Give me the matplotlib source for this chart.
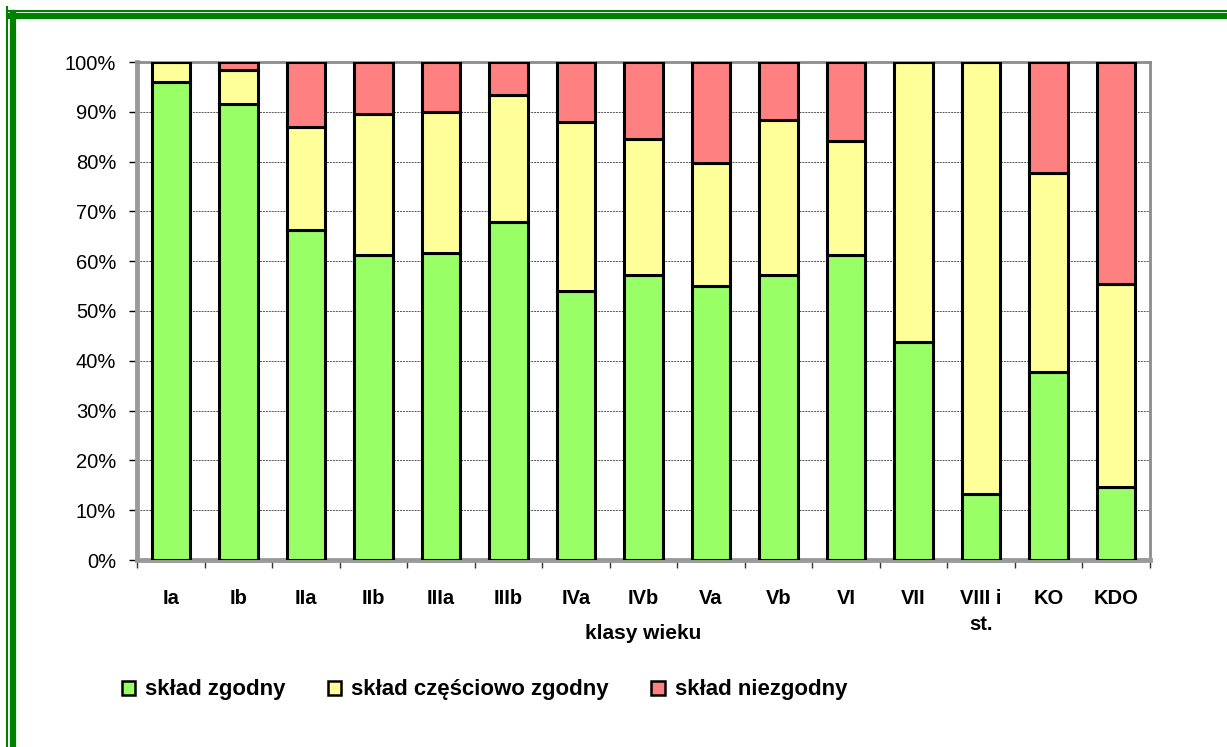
"""
Udział składu zgodnego / częściowo zgodnego / niezgodnego w klasach wieku.
"""

import matplotlib
matplotlib.use("Agg")
import matplotlib.pyplot as plt
from matplotlib.lines import Line2D
from matplotlib.patches import Patch
from matplotlib.ticker import FixedLocator, PercentFormatter

plt.rcParams["font.family"] = ["Liberation Sans", "DejaVu Sans"]

# ── data ─────────────────────────────────────────────────────────────
classes = ["Ia", "Ib", "IIa", "IIb", "IIIa", "IIIb", "IVa", "IVb",
           "Va", "Vb", "VI", "VII", "VIII i\nst.", "KO", "KDO"]
zgodny = [96.0, 91.5, 66.3, 61.3, 61.7, 67.8, 54.1, 57.2,
          55.0, 57.3, 61.2, 43.8, 13.3, 37.8, 14.7]
czesciowo = [4.0, 6.8, 20.7, 28.2, 28.3, 25.5, 33.9, 27.3,
             24.8, 31.0, 23.0, 56.2, 86.7, 40.0, 40.7]
niezgodny = [0.0, 1.7, 13.0, 10.5, 10.0, 6.7, 12.0, 15.5,
             20.2, 11.7, 15.8, 0.0, 0.0, 22.2, 44.6]
series_names = ["skład zgodny", "skład częściowo zgodny", "skład niezgodny"]
colors = ["#99FF66", "#FFFF99", "#FF8080"]

# ── figure ───────────────────────────────────────────────────────────
W, H = 1227, 747
fig = plt.figure(figsize=(W / 100, H / 100), dpi=100)
ax = fig.add_axes([137 / W, 1 - 560 / H, (1150 - 137) / W, (560 - 62) / H])

x = range(len(classes))
bottom = [0.0] * len(classes)
for vals, col in zip([zgodny, czesciowo, niezgodny], colors):
    ax.bar(x, vals, bottom=bottom, width=0.57, color=col,
           edgecolor="black", linewidth=2.2, zorder=3)
    bottom = [b + v for b, v in zip(bottom, vals)]

ax.set_xlim(-0.5, len(classes) - 0.5)
ax.set_ylim(0, 100)
ax.yaxis.set_major_locator(FixedLocator(range(0, 101, 10)))
ax.yaxis.set_major_formatter(PercentFormatter(decimals=0))
ax.grid(axis="y", color="#555555", linestyle=(0, (2, 1)), linewidth=0.7, zorder=0)

# category ticks: labels centred, tick marks between bars
ax.set_xticks(list(x))
ax.set_xticklabels(classes, fontsize=14.5, fontweight="bold", linespacing=1.45)
ax.set_xticks([i - 0.5 for i in range(len(classes) + 1)], minor=True)
ax.tick_params(axis="x", which="major", length=0, pad=21)
ax.tick_params(axis="x", which="minor", length=6, width=1, color="#333333")
ax.tick_params(axis="y", length=6, width=1, pad=9, labelsize=14.5, color="black")

ax.set_xlabel("klasy wieku", fontsize=15, fontweight="bold", va="center")
ax.xaxis.set_label_coords(0.5, -0.147)

for side in ("top", "right"):
    ax.spines[side].set_color("#8c8c8c")
    ax.spines[side].set_linewidth(2)
for side in ("left", "bottom"):
    ax.spines[side].set_color("#9a9a9a")
    ax.spines[side].set_linewidth(3.5)

# ── legend ───────────────────────────────────────────────────────────
handles = [Patch(facecolor=c, edgecolor="black", linewidth=1.8) for c in colors]
fig.legend(handles, series_names, loc="center left",
           bbox_to_anchor=(122 / W, 1 - 690 / H), ncol=3, frameon=False,
           prop={"size": 16, "weight": "bold"}, handlelength=0.6,
           handleheight=0.6, handletextpad=0.45, columnspacing=1.9,
           borderpad=0, borderaxespad=0)

# ── green double border (left + top) ─────────────────────────────────
green = "#008000"
fig.add_artist(Line2D([7 / W, 7 / W], [0, 1 - 7 / H], transform=fig.transFigure,
                      color=green, linewidth=1.5))
fig.add_artist(Line2D([7 / W, 1], [1 - 11 / H, 1 - 11 / H], transform=fig.transFigure,
                      color=green, linewidth=1.5))
fig.add_artist(Line2D([13 / W, 13 / W], [0, 1 - 13 / H], transform=fig.transFigure,
                      color=green, linewidth=4.5))
fig.add_artist(Line2D([10 / W, 1], [1 - 16 / H, 1 - 16 / H], transform=fig.transFigure,
                      color=green, linewidth=4.5))

fig.savefig("out.png", dpi=100)
